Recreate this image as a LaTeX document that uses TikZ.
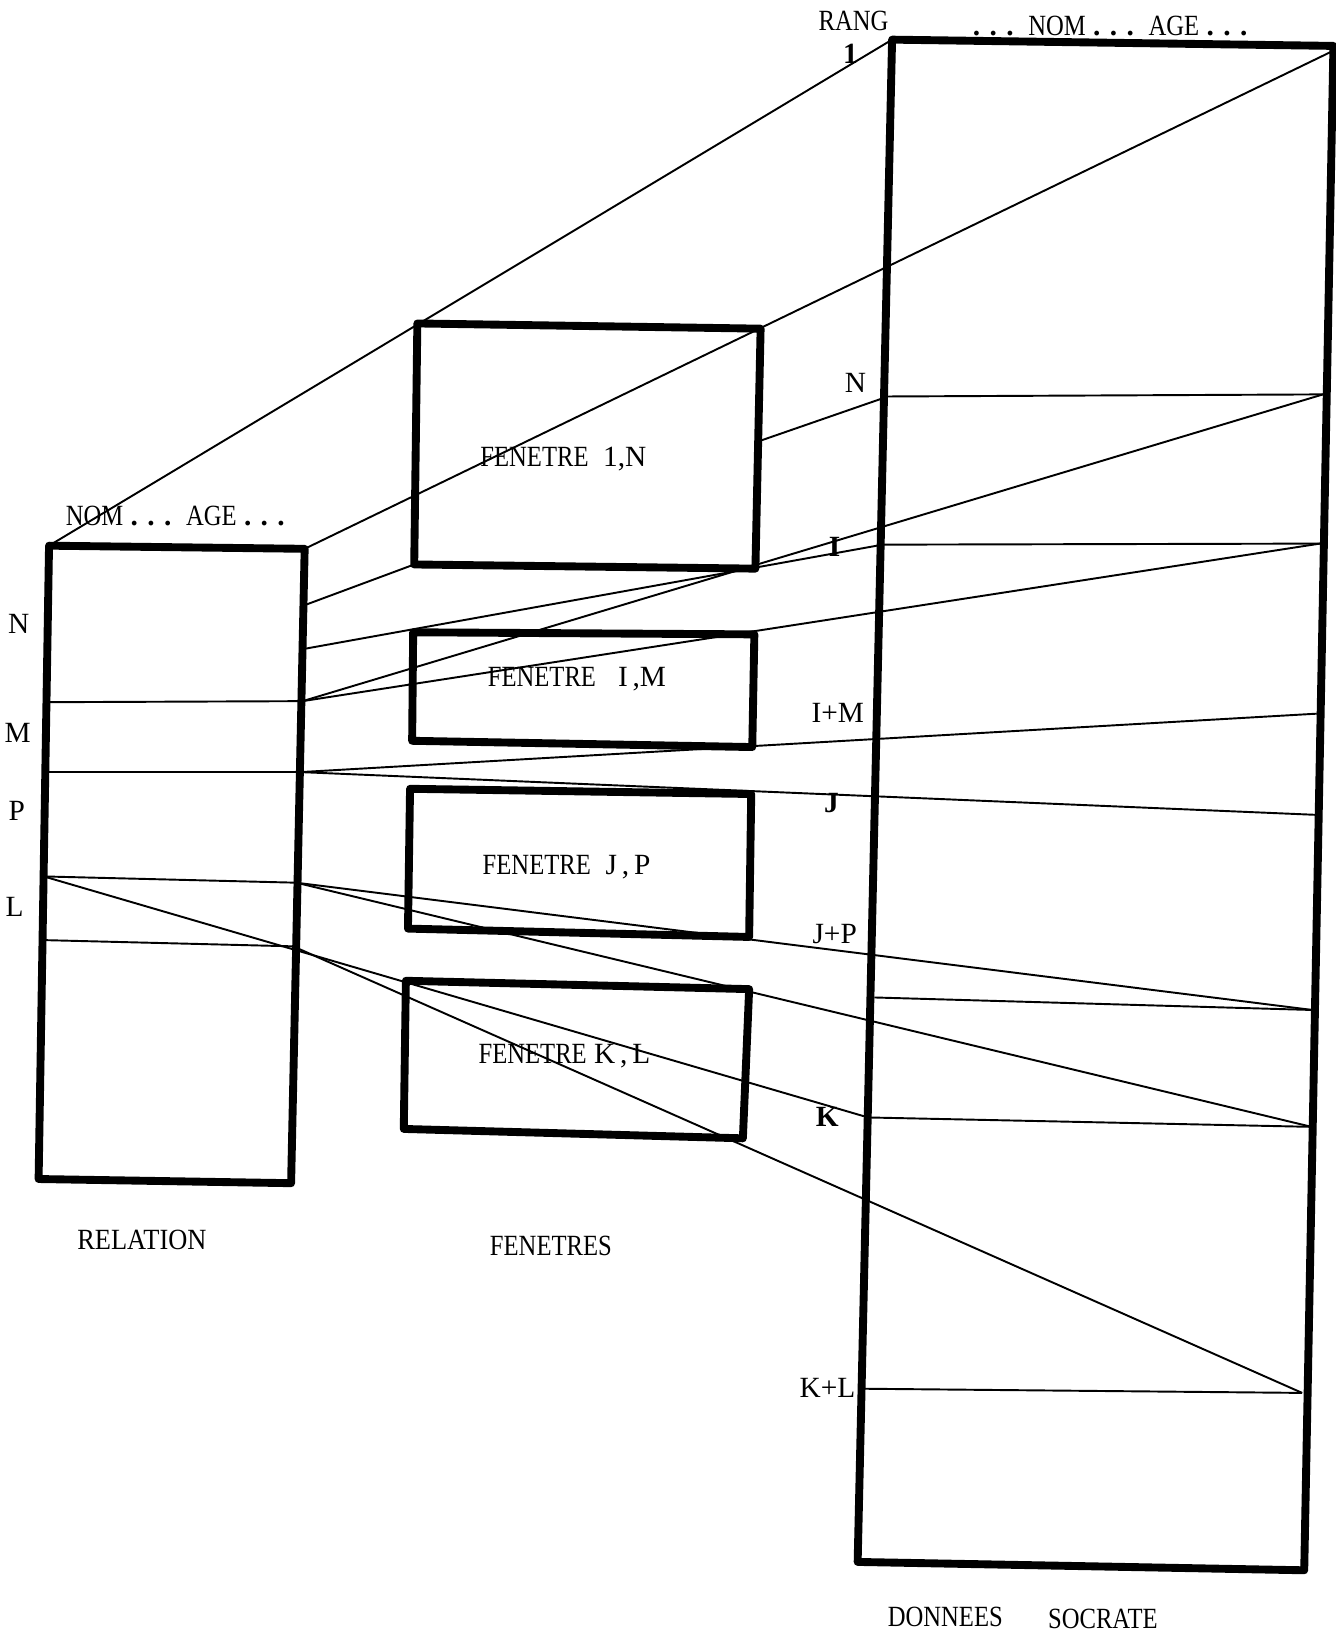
\documentclass[tikz,border=0pt]{standalone}
\usepackage{fontspec}
\setmainfont{Liberation Serif}
\usepackage{graphicx}
\newcommand{\cnd}[1]{\scalebox{0.84}[1]{#1}}
\newcommand{\pdots}{\textbf{.\hspace{0.32em}.\hspace{0.32em}.}}

\begin{document}
\begin{tikzpicture}[x=0.02cm,y=-0.02cm,
	box/.style={line width=4.3pt,line join=round},
	ray/.style={line width=1.05pt},
	lab/.style={font=\fontsize{16}{18}\selectfont,inner sep=0pt}]
	\useasboundingbox (0,0) rectangle (1280,1568);

	% relation
	\coordinate (rtl) at (47,523);
	\coordinate (rtr) at (292,526);
	\coordinate (rbr) at (279,1134);
	\coordinate (rbl) at (37,1130);
	\coordinate (r1) at (292,580);
	\coordinate (r2) at (291,622);
	\coordinate (r3) at (290,672);
	\coordinate (r3l) at (44,673);
	\coordinate (r4) at (288,740);
	\coordinate (r4l) at (43,740);
	\coordinate (r5) at (284,846);
	\coordinate (r5l) at (42,840);
	\coordinate (r6) at (281,907);
	\coordinate (r6l) at (41,901);

	% fenetres
	\coordinate (atl) at (400,310);
	\coordinate (atr) at (729,315);
	\coordinate (abr) at (724,545);
	\coordinate (abl) at (397,541);
	\coordinate (aR) at (727,423);
	\coordinate (btl) at (396,606);
	\coordinate (btr) at (723,608);
	\coordinate (bbr) at (721,716);
	\coordinate (bbl) at (395,710);
	\coordinate (ctl) at (393,756);
	\coordinate (ctr) at (720,761);
	\coordinate (cbr) at (718,898);
	\coordinate (cbl) at (391,890);
	\coordinate (dtl) at (389,940);
	\coordinate (dtr) at (718,948);
	\coordinate (dbr) at (712,1091);
	\coordinate (dbl) at (387,1082);

	% donnees socrate
	\coordinate (stl) at (855,38);
	\coordinate (str) at (1278,44);
	\coordinate (sbr) at (1250,1505);
	\coordinate (sbl) at (822,1497);
	\coordinate (sTr) at (1275,50);
	\coordinate (sN) at (851,380);
	\coordinate (sNr) at (1268,378);
	\coordinate (sI) at (846,522);
	\coordinate (sIr) at (1265,521);
	\coordinate (sIMr) at (1262,684);
	\coordinate (sJr) at (1262,781);
	\coordinate (sJP) at (838,956);
	\coordinate (sJPr) at (1258,968);
	\coordinate (sK) at (832,1071);
	\coordinate (sKr) at (1257,1080);
	\coordinate (sKL) at (828,1331);
	\coordinate (sKLr) at (1248,1335);

	% rays
	\draw[ray] (rtl) -- (stl);
	\draw[ray] (rtr) -- (sTr);
	\draw[ray] (r1) -- (abl);
	\draw[ray] (aR) -- (sN) -- (sNr);
	\draw[ray] (r2) -- (sI) -- (sIr);
	\draw[ray] (r3) -- (sNr);
	\draw[ray] (r3) -- (sIr);
	\draw[ray] (r4) -- (sIMr);
	\draw[ray] (r4) -- (sJr);
	\draw[ray] (r5) -- (sJPr);
	\draw[ray] (sJP) -- (sJPr);
	\draw[ray] (r5) -- (sKr);
	\draw[ray] (r5l) -- (sK) -- (sKr);
	\draw[ray] (r6) -- (sKLr);
	\draw[ray] (sKL) -- (sKLr);
	\draw[ray] (r3l) -- (r3);
	\draw[ray] (r4l) -- (r4);
	\draw[ray] (r5l) -- (r5);
	\draw[ray] (r6l) -- (r6);

	% boxes
	\draw[box] (rtl) -- (rtr) -- (rbr) -- (rbl) -- cycle;
	\draw[box] (atl) -- (atr) -- (abr) -- (abl) -- cycle;
	\draw[box] (btl) -- (btr) -- (bbr) -- (bbl) -- cycle;
	\draw[box] (ctl) -- (ctr) -- (cbr) -- (cbl) -- cycle;
	\draw[box] (dtl) -- (dtr) -- (dbr) -- (dbl) -- cycle;
	\draw[box] (stl) -- (str) -- (sbr) -- (sbl) -- cycle;

	% labels
	\node[lab] (relHead) at (168,495) {\cnd{NOM}\ \pdots\ \ \cnd{AGE}\ \pdots};
	\node[lab] (relN) at (18,598) {N};
	\node[lab] (relM) at (17,702) {M};
	\node[lab] (relP) at (16,777) {P};
	\node[lab] (relL) at (14,869) {L};
	\node[lab] (fenA) at (540,440) {\cnd{FENETRE}\ \ 1,N};
	\node[lab] (fenB) at (553,651) {\cnd{FENETRE}\ \ \ I\,,M};
	\node[lab] (fenC) at (543,831) {\cnd{FENETRE}\ \ J\,,\,P};
	\node[lab] (fenD) at (541,1012) {\cnd{FENETRE}\ K\,,\,L};
	\node[lab] (soHead) at (1064,25) {\pdots\ \ \cnd{NOM}\ \pdots\ \ \cnd{AGE}\ \pdots};
	\node[lab] (soRang) at (818,20) {\cnd{RANG}};
	\node[lab] (soOne) at (815,52) {\textbf{1}};
	\node[lab] (soN) at (820,367) {N};
	\node[lab] (soI) at (800,524) {\textbf{I}};
	\node[lab] (soIM) at (803,683) {I+M};
	\node[lab] (soJ) at (797,770) {\textbf{J}};
	\node[lab] (soJP) at (800,895) {J+P};
	\node[lab] (soK) at (793,1070) {\textbf{K}};
	\node[lab] (soKL) at (793,1330) {K+L};
	\node[lab] (capRel) at (136,1188) {\scalebox{0.9}[1]{RELATION}};
	\node[lab] (capFen) at (528,1194) {\cnd{FENETRES}};
	\node[lab] (capDon) at (906,1550) {\cnd{DONNEES}};
	\node[lab] (capSoc) at (1057,1552) {\cnd{SOCRATE}};
\end{tikzpicture}
\end{document}
